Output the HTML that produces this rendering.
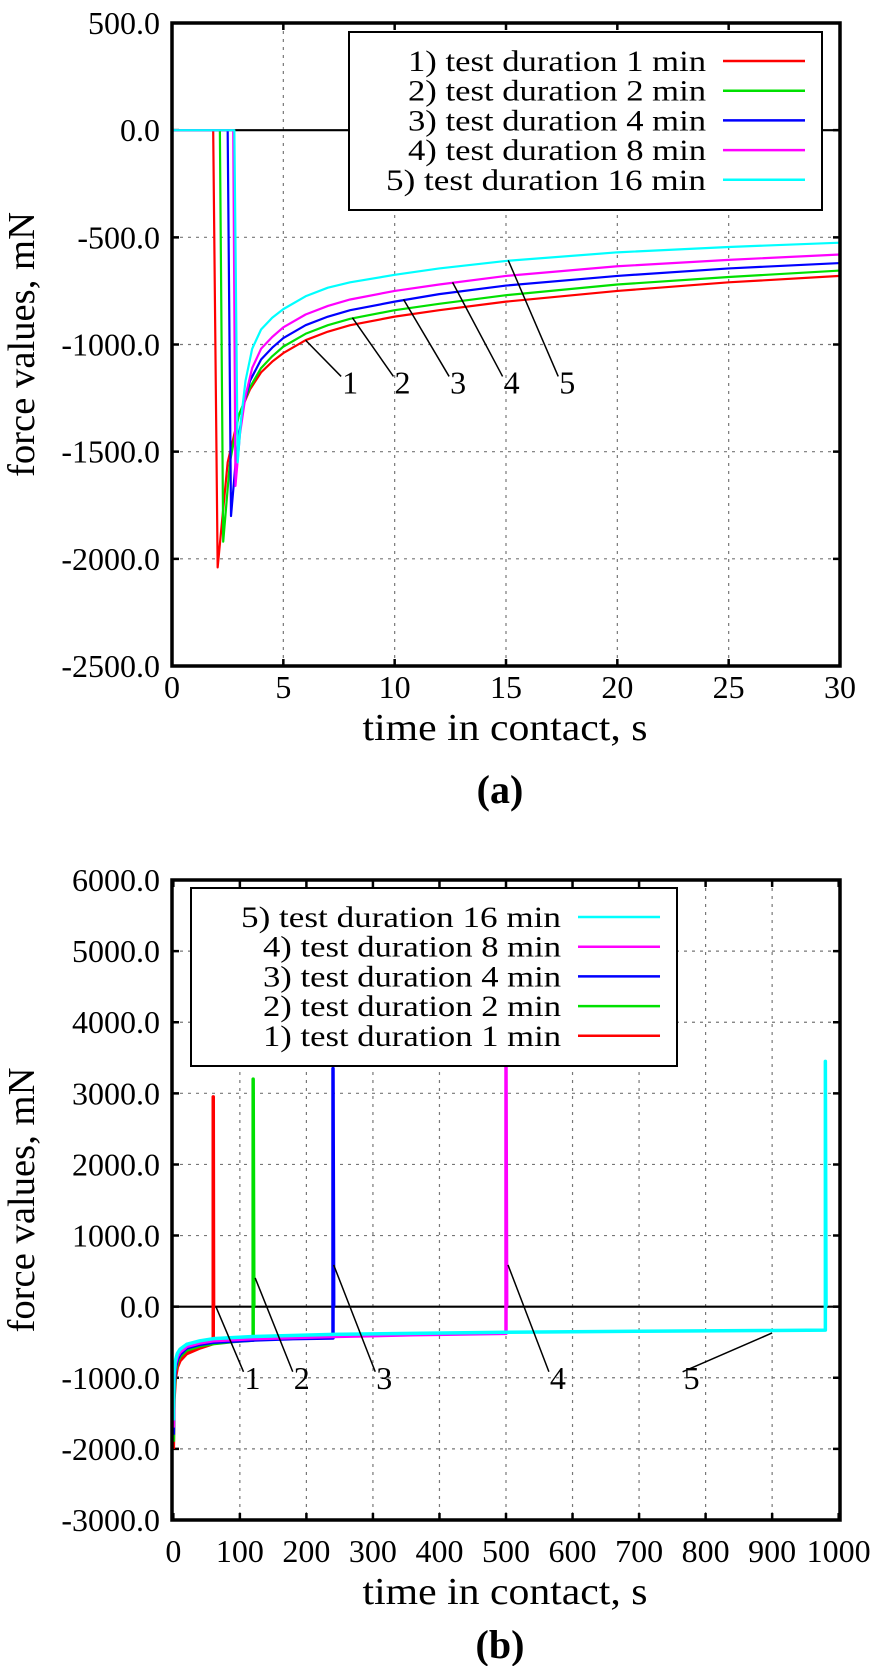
<!DOCTYPE html>
<html><head><meta charset="utf-8"><style>
html,body{margin:0;padding:0;background:#fff;}
svg{display:block;font-family:"Liberation Serif",serif;}
</style></head><body>
<svg id="fig" width="873" height="1666" viewBox="0 0 873 1666" xmlns="http://www.w3.org/2000/svg"></svg>
<script>
// ---------- chart (a) data ----------
const aTicksX = [0,5,10,15,20,25,30];
const aTicksY = [500,0,-500,-1000,-1500,-2000,-2500];
const aTickLabelsY = ["500.0","0.0","-500.0","-1000.0","-1500.0","-2000.0","-2500.0"];
const aT1 = [0,1.85,2.05,2.5,3,3.5,4,4.5,5,6,7,8,10,12,15,20,25,30];
const aV1 = [0,0,-2040,-1550,-1330,-1210,-1130,-1080,-1040,-980,-940,-910,-870,-840,-800,-750,-710,-680];
const aT2 = [0,2.15,2.3,2.6,3,3.5,4,4.5,5,6,7,8,10,12,15,20,25,30];
const aV2 = [0,0,-1920,-1550,-1330,-1200,-1110,-1055,-1010,-950,-910,-880,-840,-810,-770,-720,-685,-655];
const aT3 = [0,2.5,2.65,2.9,3.2,3.5,4,4.5,5,6,7,8,10,12,15,20,25,30];
const aV3 = [0,0,-1800,-1500,-1290,-1170,-1070,-1015,-970,-910,-870,-840,-800,-765,-725,-680,-645,-620];
const aT4 = [0,2.75,2.85,3.05,3.3,3.6,4,4.5,5,6,7,8,10,12,15,20,25,30];
const aV4 = [0,0,-1660,-1420,-1240,-1110,-1020,-965,-920,-860,-820,-790,-750,-720,-680,-635,-605,-580];
const aT5 = [0,2.8,2.95,3.1,3.3,3.6,4,4.5,5,6,7,8,10,12,15,20,25,30];
const aV5 = [0,0,-1550,-1350,-1170,-1020,-930,-875,-835,-775,-735,-710,-675,-645,-610,-570,-545,-525];
const aAnnLabels = ["1","2","3","4","5"];
const aAnnT = [8.0,10.35,12.85,15.25,17.75];
const aAnnV = [-1177,-1177,-1177,-1177,-1177];
const aTgtT = [6.0,8.1,10.4,12.6,15.1];
const aTgtV = [-980,-875,-790,-710,-607];
// ---------- chart (b) data ----------
const bTicksX = [0,100,200,300,400,500,600,700,800,900,1000];
const bTicksY = [6000,5000,4000,3000,2000,1000,0,-1000,-2000,-3000];
const bTickLabelsY = ["6000.0","5000.0","4000.0","3000.0","2000.0","1000.0","0.0","-1000.0","-2000.0","-3000.0"];
const bT1 = [0,1,3,6,10,20,40,60,60,60.5];
const bV1 = [-2000,-1300,-1000,-850,-760,-660,-580,-520,2950,0];
const bT2 = [0,1,3,6,10,20,40,60,90,120,120,121];
const bV2 = [-1900,-1200,-900,-780,-700,-610,-550,-520,-490,-470,3200,0];
const bT3 = [0,1,3,6,10,20,40,60,120,180,240,240,241];
const bV3 = [-1800,-1100,-850,-740,-670,-580,-530,-500,-470,-450,-440,3350,0];
const bT4 = [0,1,3,6,10,20,40,60,120,240,360,500,500,501];
const bV4 = [-1700,-1000,-800,-700,-640,-560,-510,-480,-450,-420,-395,-375,3400,0];
const bT5 = [0,1,3,6,10,20,40,60,120,240,500,700,900,980,980,981];
const bV5 = [-1600,-950,-760,-660,-600,-530,-480,-450,-420,-390,-360,-345,-335,-330,3450,0];
const bAnnLabels = ["1","2","3","4","5"];
const bAnnT = [119,193,317,578,779];
const bAnnV = [-1000,-1000,-1000,-1000,-1000];
const bTgtT = [64,123,241,503,900];
const bTgtV = [0,404,587,587,-370];
const seriesNames = ["1) test duration 1 min","2) test duration 2 min","3) test duration 4 min","4) test duration 8 min","5) test duration 16 min"];
const colors = ["#ff0000","#00e000","#0000ff","#ff00ff","#00ffff"];

const NS="http://www.w3.org/2000/svg";
const svg=document.getElementById('fig');
function mk(tag,attrs,parent){const e=document.createElementNS(NS,tag);for(const k in attrs)e.setAttribute(k,attrs[k]);(parent||svg).appendChild(e);return e;}

function drawChart(cfg){
  const g=mk('g',{});
  
  
  const X=t=>cfg.L+(t-cfg.x0)/(cfg.x1-cfg.x0)*(cfg.R-cfg.L);
  const Y=v=>cfg.B-(v-cfg.y0)/(cfg.y1-cfg.y0)*(cfg.B-cfg.T);
  cfg.ticksX.forEach((t,i)=>{
    if(i>0&&i<cfg.ticksX.length-1){const l=mk('line',{x1:X(t),x2:X(t),y1:cfg.T,y2:cfg.B,stroke:'#777','stroke-width':1.2,'stroke-dasharray':'3,5'},g);
    
    }
    const tk=mk('path',{d:`M${X(t)},${cfg.B}v-7M${X(t)},${cfg.T}v7`,stroke:'#000','stroke-width':2.5},g);
    
    
    const tx=mk('text',{x:X(t),y:cfg.B+cfg.tickOff,'text-anchor':'middle','font-size':32},g);tx.textContent=t;
    
    
  });
  cfg.ticksY.forEach((v,i)=>{
    if(i>0&&i<cfg.ticksY.length-1&&v!==0){const l=mk('line',{x1:cfg.L,x2:cfg.R,y1:Y(v),y2:Y(v),stroke:'#777','stroke-width':1.2,'stroke-dasharray':'3,5'},g);
    
    }
    const tk=mk('path',{d:`M${cfg.L},${Y(v)}h7M${cfg.R},${Y(v)}h-7`,stroke:'#000','stroke-width':2.5},g);
    
    
    const tx=mk('text',{x:160,y:Y(v)+11,'text-anchor':'end','font-size':32},g);tx.textContent=cfg.tickLabelsY[i];
    
    
  });
  const z=mk('line',{x1:cfg.L,x2:cfg.R,y1:Y(0),y2:Y(0),stroke:'#000','stroke-width':2.2},g);
  
  
  cfg.series.forEach((s,i)=>{
    const d=s.t.map((t,j)=>(j?'L':'M')+X(t).toFixed(2)+','+Y(s.v[j]).toFixed(2)).join('');
    const p=mk('path',{d:d,fill:'none',stroke:colors[i],'stroke-width':cfg.sw,'stroke-linejoin':'round'},g);
    
    
  });
  cfg.annLabels.forEach((lab,i)=>{
    const lx=X(cfg.annT[i]),ly=Y(cfg.annV[i]);
    const l=mk('line',{x1:lx-9,y1:ly-6,x2:X(cfg.tgtT[i]),y2:Y(cfg.tgtV[i]),stroke:'#000','stroke-width':1.5},g);
    
    
    const tx=mk('text',{x:lx,y:ly+11,'text-anchor':'middle','font-size':32},g);tx.textContent=lab;
    
    
  });
  const lg=mk('g',{},g);
  
  
  mk('rect',{x:cfg.leg.x,y:cfg.leg.y,width:cfg.leg.w,height:cfg.leg.h,fill:'#fff',stroke:'#000','stroke-width':2},lg);
  cfg.leg.order.forEach((si,r)=>{
    const ry=cfg.leg.y+29+r*29.7;
    const tw = si===4 ? 320 : 298;
    const tx=mk('text',{x:cfg.leg.textEnd,y:ry+10,'text-anchor':'end','font-size':30,textLength:tw,lengthAdjust:'spacingAndGlyphs'},lg);tx.textContent=seriesNames[si];
    
    
    const ln=mk('line',{x1:cfg.leg.textEnd+17,x2:cfg.leg.textEnd+99,y1:ry,y2:ry,stroke:colors[si],'stroke-width':2.5},lg);
    
    
  });
  const f=mk('rect',{x:cfg.L,y:cfg.T,width:cfg.R-cfg.L,height:cfg.B-cfg.T,fill:'none',stroke:'#000','stroke-width':3.5},g);
  
  
  const xt=mk('text',{x:505,y:cfg.B+cfg.titleOff,'text-anchor':'middle','font-size':38,textLength:285,lengthAdjust:'spacingAndGlyphs'},g);xt.textContent='time in contact, s';
  
  
  const my=(cfg.T+cfg.B)/2;
  const yt=mk('text',{x:0,y:0,'text-anchor':'middle','font-size':38,textLength:265,lengthAdjust:'spacingAndGlyphs',transform:`translate(34,${my}) rotate(-90)`},g);yt.textContent='force values, mN';
  
  
  const cap=mk('text',{x:500,y:cfg.capY,'text-anchor':'middle','font-size':40,'font-weight':'bold'},g);cap.textContent=cfg.caption;
  
  
}

drawChart({name:'chart-a',L:172,R:840,T:23,B:666,x0:0,x1:30,y0:-2500,y1:500,
  ticksX:aTicksX,ticksY:aTicksY,tickLabelsY:aTickLabelsY,sw:2.2,tickOff:32,titleOff:74,
  series:[{t:aT1,v:aV1},{t:aT2,v:aV2},{t:aT3,v:aV3},{t:aT4,v:aV4},{t:aT5,v:aV5}],
  annLabels:aAnnLabels,annT:aAnnT,annV:aAnnV,tgtT:aTgtT,tgtV:aTgtV,
  leg:{x:349,y:32,w:473,h:178,textEnd:706,order:[0,1,2,3,4]},caption:'(a)',capY:803});

drawChart({name:'chart-b',L:172,R:840,T:880,B:1520,x0:-2,x1:1002,y0:-3000,y1:6000,
  ticksX:bTicksX,ticksY:bTicksY,tickLabelsY:bTickLabelsY,sw:3.5,tickOff:42,titleOff:84,
  series:[{t:bT1,v:bV1},{t:bT2,v:bV2},{t:bT3,v:bV3},{t:bT4,v:bV4},{t:bT5,v:bV5}],
  annLabels:bAnnLabels,annT:bAnnT,annV:bAnnV,tgtT:bTgtT,tgtV:bTgtV,
  leg:{x:191,y:888,w:486,h:178,textEnd:561,order:[4,3,2,1,0]},caption:'(b)',capY:1658});
</script>
</body></html>
